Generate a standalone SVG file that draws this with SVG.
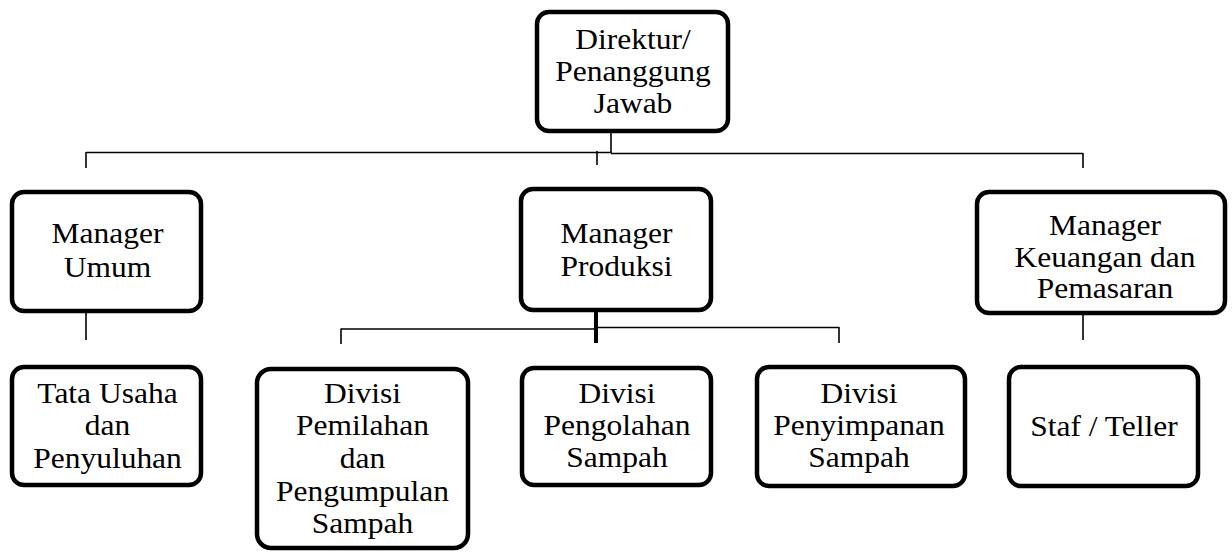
<svg xmlns="http://www.w3.org/2000/svg" width="1232" height="552" viewBox="0 0 1232 552">
<style>
.box{fill:#fff;stroke:#000;stroke-width:4.5}
.ln{fill:none;stroke:#000;stroke-width:1.6}
.thick{fill:none;stroke:#000;stroke-width:4}
.t{font-family:'Liberation Serif','DejaVu Serif',serif;font-size:30px;fill:#000;text-anchor:middle}
</style>
<rect width="1232" height="552" fill="#fff"/>
<g id="connectors">
<line class="ln" x1="611" y1="132" x2="611" y2="153"/>
<line class="ln" x1="86" y1="152.5" x2="611" y2="152.5"/>
<line class="ln" x1="611" y1="153.5" x2="1083" y2="153.5"/>
<line class="ln" x1="86" y1="152" x2="86" y2="168"/>
<line class="ln" x1="597" y1="151" x2="597" y2="165"/>
<line class="ln" x1="1083" y1="153" x2="1083" y2="168"/>
<line class="ln" x1="86" y1="313" x2="86" y2="340"/>
<line class="ln" x1="1083" y1="315" x2="1083" y2="340"/>
<line class="thick" x1="596" y1="312" x2="596" y2="343"/>
<line class="ln" x1="341" y1="329" x2="596" y2="329"/>
<line class="ln" x1="596" y1="327.5" x2="839" y2="327.5"/>
<line class="ln" x1="341" y1="328.5" x2="341" y2="344"/>
<line class="ln" x1="839" y1="327" x2="839" y2="343"/>
</g>
<g id="direktur">
<rect class="box" x="537" y="12" width="191" height="119" rx="12"/>
<text class="t" font-family="Liberation Serif, serif" transform="translate(633,48.5) scale(1.05 1)"><tspan x="0" y="0">Direktur/</tspan><tspan x="0" y="33">Penanggung</tspan><tspan x="0" y="65">Jawab</tspan></text>
</g>
<g id="manager-umum">
<rect class="box" x="12" y="192" width="189" height="119" rx="12"/>
<text class="t" font-family="Liberation Serif, serif" transform="translate(107.5,243) scale(1.05 1)"><tspan x="0" y="0">Manager</tspan><tspan x="0" y="34">Umum</tspan></text>
</g>
<g id="manager-produksi">
<rect class="box" x="521" y="189" width="190" height="121" rx="12"/>
<text class="t" font-family="Liberation Serif, serif" transform="translate(616.5,243) scale(1.05 1)"><tspan x="0" y="0">Manager</tspan><tspan x="0" y="33">Produksi</tspan></text>
</g>
<g id="manager-keuangan">
<rect class="box" x="977" y="192" width="248" height="121" rx="12"/>
<text class="t" font-family="Liberation Serif, serif" transform="translate(1105,235) scale(1.05 1)"><tspan x="0" y="0">Manager</tspan><tspan x="0" y="32.5">Keuangan dan</tspan><tspan x="0" y="63">Pemasaran</tspan></text>
</g>
<g id="tata-usaha">
<rect class="box" x="12" y="367" width="189" height="118" rx="12"/>
<text class="t" font-family="Liberation Serif, serif" transform="translate(107.5,403) scale(1.05 1)"><tspan x="0" y="0">Tata Usaha</tspan><tspan x="0" y="32.5">dan</tspan><tspan x="0" y="65">Penyuluhan</tspan></text>
</g>
<g id="divisi-pemilahan">
<rect class="box" x="257" y="369" width="211" height="179" rx="14"/>
<text class="t" font-family="Liberation Serif, serif" transform="translate(362.5,403) scale(1.05 1)"><tspan x="0" y="0">Divisi</tspan><tspan x="0" y="32.5">Pemilahan</tspan><tspan x="0" y="65">dan</tspan><tspan x="0" y="98">Pengumpulan</tspan><tspan x="0" y="130">Sampah</tspan></text>
</g>
<g id="divisi-pengolahan">
<rect class="box" x="522" y="368" width="189" height="117" rx="12"/>
<text class="t" font-family="Liberation Serif, serif" transform="translate(617,403) scale(1.05 1)"><tspan x="0" y="0">Divisi</tspan><tspan x="0" y="32.5">Pengolahan</tspan><tspan x="0" y="64.5">Sampah</tspan></text>
</g>
<g id="divisi-penyimpanan">
<rect class="box" x="757" y="367" width="208" height="119" rx="12"/>
<text class="t" font-family="Liberation Serif, serif" transform="translate(859,403) scale(1.05 1)"><tspan x="0" y="0">Divisi</tspan><tspan x="0" y="32.5">Penyimpanan</tspan><tspan x="0" y="64.5">Sampah</tspan></text>
</g>
<g id="staf-teller">
<rect class="box" x="1009" y="367" width="189" height="119" rx="12"/>
<text class="t" font-family="Liberation Serif, serif" transform="translate(1104,436) scale(1.05 1)"><tspan x="0" y="0">Staf / Teller</tspan></text>
</g>
</svg>
